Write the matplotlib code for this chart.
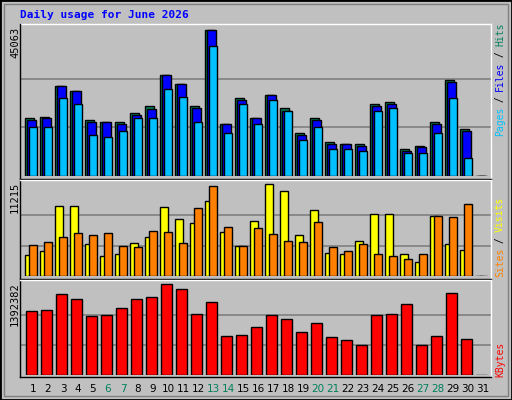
import numpy as np
import matplotlib.pyplot as plt
from matplotlib.patches import Rectangle
from matplotlib.lines import Line2D

days = list(range(1, 32))
weekend = [6, 7, 13, 14, 20, 21, 27, 28]

hits = [17780, 18393, 27896, 26363, 17167, 16860, 16554, 19313, 21459, 31268,
        28509, 21459, 45063, 16247, 24217, 18086, 25137, 21152, 13182, 17780,
        10729, 10116, 9810, 22072, 22991, 8277, 9503, 16860, 29735, 14408, 0]
files = [17473, 18086, 27590, 26057, 16860, 16554, 16247, 18700, 20845, 30962,
         28203, 21152, 44800, 15941, 23298, 17780, 24831, 20232, 12875, 17167,
         9810, 9810, 9503, 21765, 22072, 7970, 8890, 15941, 28816, 13795, 0]
pages = [15021, 15021, 24217, 22378, 12875, 12262, 13795, 17780, 17780, 26670,
         24524, 16860, 40158, 13182, 22072, 15941, 23604, 20232, 11342, 15021,
         8277, 8277, 7970, 20232, 21152, 7051, 7357, 13182, 23911, 5824, 0]
visits = [2560, 3048, 8533, 8533, 3901, 2438, 2682, 4023, 4754, 8411,
          6948, 6461, 9143, 5364, 3657, 6705, 11215, 10362, 4998, 8046,
          2804, 2682, 4267, 7558, 7558, 2682, 1707, 7314, 3901, 3169, 0]
sites = [3779, 4145, 4754, 5242, 4998, 5242, 3657, 3535, 5486, 5364,
         4023, 8289, 10971, 5973, 3657, 5851, 5120, 4267, 4145, 6583,
         3535, 3048, 3901, 2682, 2438, 2072, 2682, 7314, 7192, 8777, 0]
kbytes = [979258, 994559, 1239373, 1162868, 902753, 918054, 1025160, 1162868, 1193470, 1392382,
          1315877, 933355, 1116966, 596735, 612036, 734443, 918054, 856850, 657939, 795647,
          581434, 535532, 459027, 918054, 933355, 1086364, 459027, 596735, 1254674, 550833, 0]

W, H = 512, 400
fig = plt.figure(figsize=(W / 100, H / 100), dpi=100, facecolor='#C0C0C0')
mono = 'DejaVu Sans Mono'

def fx(px):
    return px / W

def fy(py):
    return 1 - py / H

def make_ax(top, bottom):
    ax = fig.add_axes([fx(20.3), fy(bottom), fx(491) - fx(20.3), fy(top) - fy(bottom)])
    ax.set_facecolor('#C0C0C0')
    ax.set_xlim((20.3 - 31) / 15 + 1, (491 - 31) / 15 + 1)
    ax.axis('off')
    return ax

x = np.array(days, dtype=float)
u = 1 / 15  # one pixel in day units

# outer border
fig.add_artist(Rectangle((0, 0), 1, 1, transform=fig.transFigure, fill=False, ec='black', lw=2))
fig.add_artist(Rectangle((fx(4), fy(396)), fx(504), fy(4) - fy(396), transform=fig.transFigure,
                         fill=False, ec='#808080', lw=1))

# top panel
ax1 = make_ax(24.3, 176.5)
m = max(hits)
ax1.set_ylim(0, m * 152.2 / 147)
for k in (1, 2):
    ax1.axhline(m * k / 3, color='#808080', lw=1.2, zorder=0)
kw = dict(align='edge', edgecolor='black', linewidth=1)
ax1.bar(x - 5.7 * u, hits, 9 * u, color='#00805C', **kw)
ax1.bar(x - 4.3 * u, files, 9 * u, color='#0000FF', **kw)
ax1.bar(x - 2.3 * u, pages, 8 * u, color='#00C0FF', **kw)

# middle panel
ax2 = make_ax(180.3, 276.3)
m = max(visits)
ax2.set_ylim(0, m * 96 / 92)
for k in (1, 2):
    ax2.axhline(m * k / 3, color='#808080', lw=1.2, zorder=0)
ax2.bar(x - 5.7 * u, visits, 8 * u, color='#FFFF00', **kw)
ax2.bar(x - 1.7 * u, sites, 7.4 * u, color='#FF8000', **kw)

# bottom panel
ax3 = make_ax(280.3, 375.3)
m = max(kbytes)
ax3.set_ylim(0, m * 95 / 91)
for k in (1, 2):
    ax3.axhline(m * k / 3, color='#808080', lw=1.2, zorder=0)
ax3.bar(x - 4.7 * u, kbytes, 10.3 * u, color='#FF0000', **kw)

# frame and separators
fig.add_artist(Line2D([fx(20), fx(491)], [fy(24.3)] * 2, color='white', lw=1))
fig.add_artist(Line2D([fx(491)] * 2, [fy(24.3), fy(377)], color='white', lw=1))
fig.add_artist(Line2D([fx(20)] * 2, [fy(24.3), fy(377)], color='black', lw=1))
fig.add_artist(Line2D([fx(20), fx(491)], [fy(377)] * 2, color='black', lw=1))
for yy in (178.5, 279):
    fig.add_artist(Line2D([fx(20), fx(491)], [fy(yy)] * 2, color='black', lw=1))
    fig.add_artist(Line2D([fx(20), fx(491)], [fy(yy + 1)] * 2, color='white', lw=1))

# title
fig.text(fx(20), fy(15), 'Daily usage for June 2026', color='#0000FF', family=mono,
         fontweight='bold', fontsize=8, va='center', ha='left')

# left max labels
for val, top in ((max(hits), 27), (max(visits), 182), (max(kbytes), 282)):
    fig.text(fx(15), fy(top), str(val), rotation=90, family=mono, fontsize=7.5,
             va='top', ha='center')

# right legends, read bottom-up
def legend(parts, bottom, cw=5.6):
    y = bottom
    for txt, col in parts:
        fig.text(fx(500), fy(y), txt, rotation=90, color=col, family=mono, fontsize=7,
                 va='bottom', ha='center')
        y -= cw * len(txt)

legend([('Pages', '#00C0FF'), (' / ', 'black'), ('Files', '#0000FF'),
        (' / ', 'black'), ('Hits', '#00805C')], 136)
legend([('Sites', '#FF8000'), (' / ', 'black'), ('Visits', '#FFFF00')], 277)
legend([('KBytes', '#FF0000')], 377, 6)

# day labels
for d in days:
    col = '#00805C' if d in weekend else 'black'
    fig.text(fx(31 + (d - 1) * 15 + 2), fy(389), str(d), color=col, fontsize=7.5,
             ha='center', va='center')

fig.savefig('out.png', dpi=100, facecolor=fig.get_facecolor())
